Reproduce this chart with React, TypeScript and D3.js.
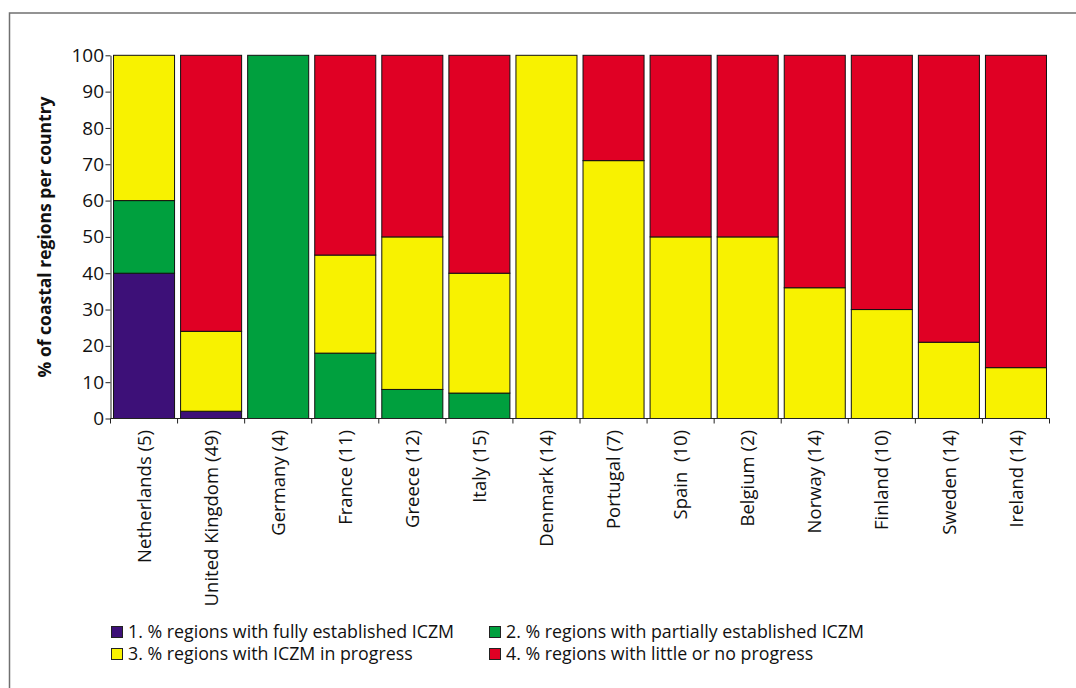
import { useEffect, useRef } from "react";
import * as d3 from "d3";

// ---------------------------------------------------------------------------
// Data
// ---------------------------------------------------------------------------

const COUNTRIES = [
  "Netherlands (5)",
  "United Kingdom (49)",
  "Germany (4)",
  "France (11)",
  "Greece (12)",
  "Italy (15)",
  "Denmark (14)",
  "Portugal (7)",
  "Spain  (10)",
  "Belgium (2)",
  "Norway (14)",
  "Finland (10)",
  "Sweden (14)",
  "Ireland (14)",
];

const FULLY = [40, 2, 0, 0, 0, 0, 0, 0, 0, 0, 0, 0, 0, 0];
const PARTIAL = [20, 0, 100, 18, 8, 7, 0, 0, 0, 0, 0, 0, 0, 0];
const IN_PROGRESS = [40, 22, 0, 27, 42, 33, 100, 71, 50, 50, 36, 30, 21, 14];
const LITTLE = [0, 76, 0, 55, 50, 60, 0, 29, 50, 50, 64, 70, 79, 86];

const SERIES = [
  "1. % regions with fully established ICZM",
  "2. % regions with partially established ICZM",
  "3. % regions with ICZM in progress",
  "4. % regions with little or no progress",
];

const COLORS = ["#3d1078", "#00a03e", "#f8f200", "#e00024"];

const Y_TICKS = [0, 10, 20, 30, 40, 50, 60, 70, 80, 90, 100];

const FONT = "'Open Sans', Lato, sans-serif";

export default function App() {
  const svgRef = useRef<SVGSVGElement>(null);
  const width = 1076;
  const height = 688;

  useEffect(() => {
    const svg = d3.select(svgRef.current);
    svg.selectAll("*").remove();

    // outer frame (runs off the right/bottom edge)
    svg
      .append("rect")
      .attr("x", 9.5)
      .attr("y", 13)
      .attr("width", 1200)
      .attr("height", 800)
      .attr("fill", "none")
      .attr("stroke", "#707070")
      .attr("stroke-width", 1.5);

    const left = 110.5;
    const right = 1049.5;
    const top = 55.3;
    const bottom = 418.5;

    const rows = COUNTRIES.map((c, i) => ({
      country: c,
      fully: FULLY[i],
      partial: PARTIAL[i],
      progress: IN_PROGRESS[i],
      little: LITTLE[i],
    }));
    const keys = ["fully", "partial", "progress", "little"];

    const x = d3
      .scaleBand()
      .domain(COUNTRIES)
      .range([left, right])
      .paddingInner(0.09)
      .paddingOuter(0.045);

    const y = d3.scaleLinear().domain([0, 100]).range([bottom, top]);

    const stack = d3.stack<any>().keys(keys)(rows);

    // ---- Bars ----
    svg
      .append("g")
      .selectAll("g")
      .data(stack)
      .join("g")
      .attr("fill", (_d, i) => COLORS[i])
      .selectAll("rect")
      .data((d) => d.filter((s) => s[1] - s[0] > 0))
      .join("rect")
      .attr("x", (d) => x(d.data.country)!)
      .attr("width", x.bandwidth())
      .attr("y", (d) => y(d[1]))
      .attr("height", (d) => y(d[0]) - y(d[1]))
      .attr("stroke", "#111")
      .attr("stroke-width", 1);

    // ---- Y axis ----
    const yAxis = d3
      .axisLeft(y)
      .tickValues(Y_TICKS)
      .tickSize(5)
      .tickPadding(1.5)
      .tickSizeOuter(0);

    svg
      .append("g")
      .attr("transform", `translate(${left},0)`)
      .call(yAxis)
      .call((sel) => sel.select(".domain").attr("stroke", "#222"))
      .call((sel) => sel.selectAll("line").attr("stroke", "#222"))
      .call((sel) =>
        sel
          .selectAll("text")
          .attr("fill", "#111")
          .attr("font-size", 19)
          .attr("font-family", FONT)
      );

    // ---- X axis ----
    const boundaries = COUNTRIES.map((_c, i) => left + (i * (right - left)) / COUNTRIES.length);
    boundaries.push(right);

    const xg = svg.append("g");
    xg.append("line")
      .attr("x1", left)
      .attr("x2", right)
      .attr("y1", bottom)
      .attr("y2", bottom)
      .attr("stroke", "#222");
    xg.selectAll("line.tick")
      .data(boundaries)
      .join("line")
      .attr("class", "tick")
      .attr("x1", (d) => d)
      .attr("x2", (d) => d)
      .attr("y1", bottom)
      .attr("y2", bottom + 5)
      .attr("stroke", "#222");

    xg.selectAll("text")
      .data(COUNTRIES)
      .join("text")
      .attr(
        "transform",
        (d) => `translate(${x(d)! + x.bandwidth() / 2},430) rotate(-90)`
      )
      .attr("text-anchor", "end")
      .attr("dy", "0.36em")
      .attr("fill", "#111")
      .attr("font-size", 18.5)
      .attr("font-family", FONT)
      .style("white-space", "pre")
      .text((d) => d);

    // ---- Y title ----
    svg
      .append("text")
      .attr("transform", `translate(51,${(top + bottom) / 2}) rotate(-90)`)
      .attr("text-anchor", "middle")
      .attr("fill", "#111")
      .attr("font-size", 17.5)
      .attr("font-weight", "bold")
      .attr("font-family", FONT)
      .text("% of coastal regions per country");

    // ---- Legend ----
    const legendPos = [
      { x: 111, y: 632 },
      { x: 489, y: 632 },
      { x: 111, y: 654 },
      { x: 489, y: 654 },
    ];
    const lg = svg
      .append("g")
      .selectAll("g")
      .data(SERIES)
      .join("g")
      .attr("transform", (_d, i) => `translate(${legendPos[i].x},${legendPos[i].y})`);
    lg.append("rect")
      .attr("x", 0.5)
      .attr("y", -5.5)
      .attr("width", 11)
      .attr("height", 11)
      .attr("fill", (_d, i) => COLORS[i])
      .attr("stroke", "#222");
    lg.append("text")
      .attr("x", 17)
      .attr("dy", "0.36em")
      .attr("fill", "#111")
      .attr("font-size", 17.8)
      .attr("font-family", FONT)
      .text((d) => d);
  }, []);

  return (
    <svg
      ref={svgRef}
      width={width}
      height={height}
      style={{ position: "absolute", left: 0, top: 0, background: "#fff" }}
    />
  );
}
